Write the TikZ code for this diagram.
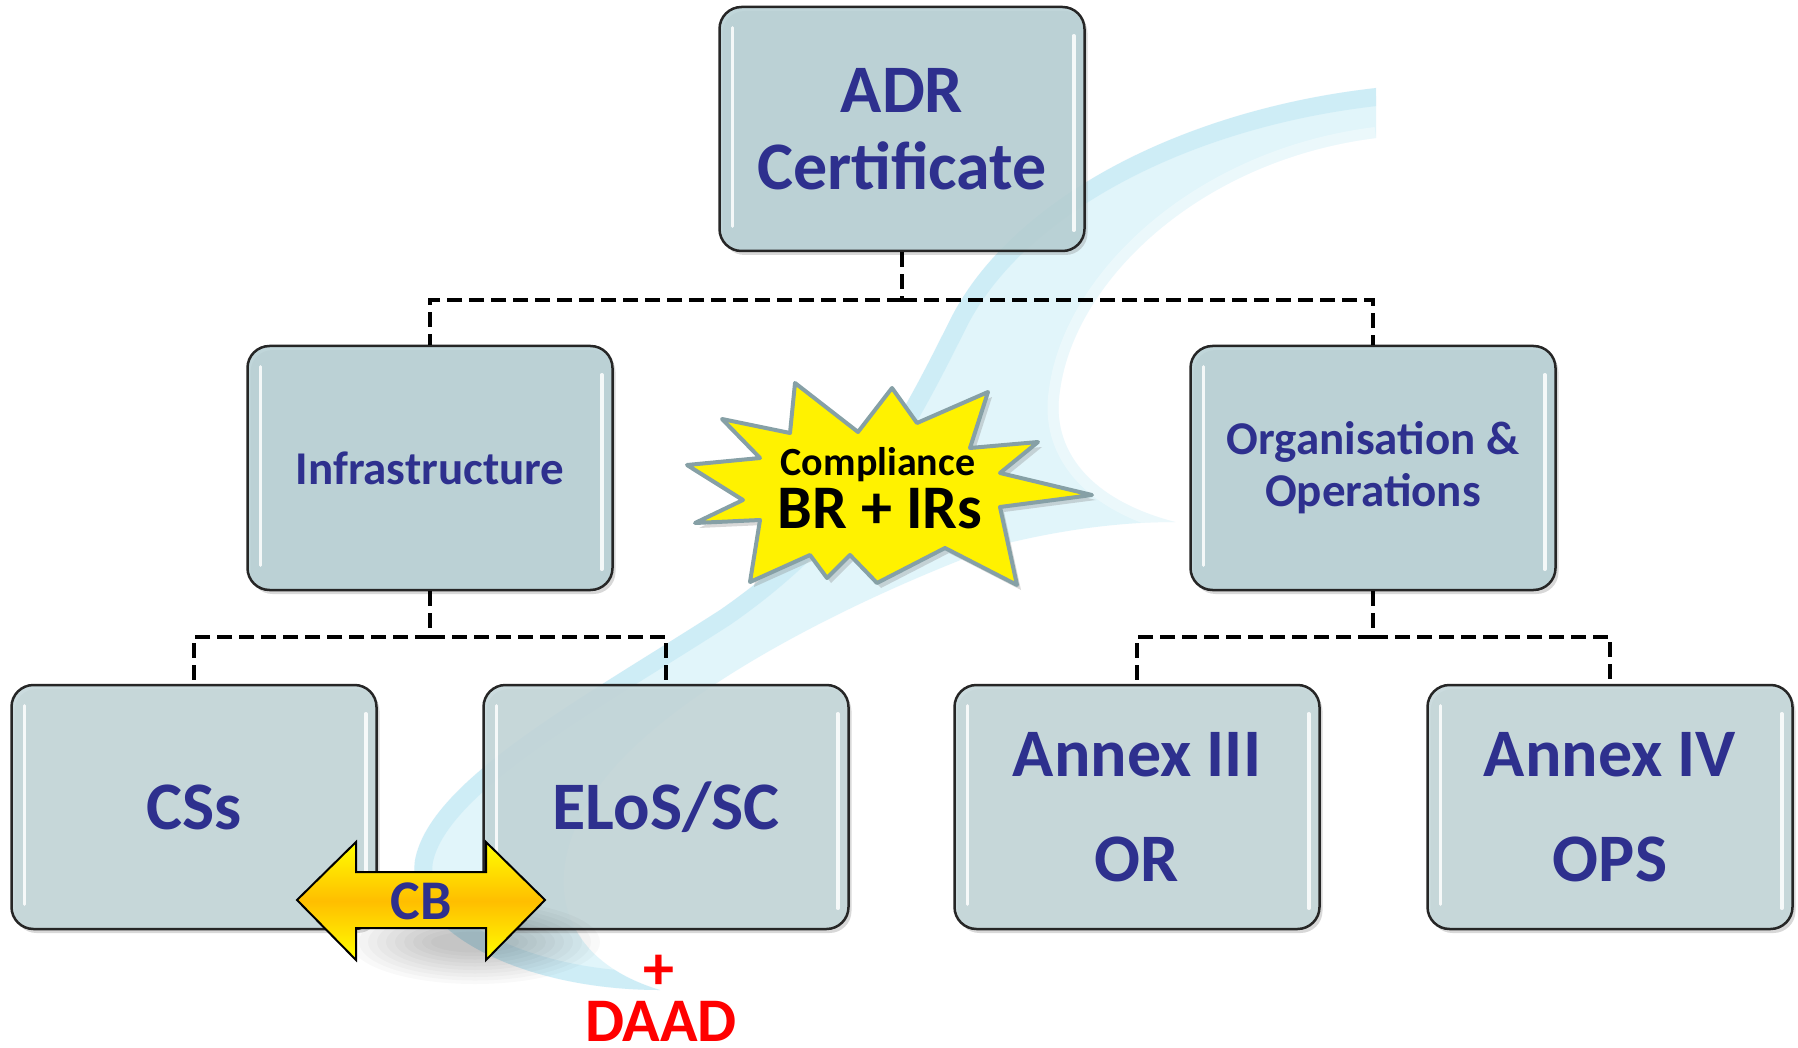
\documentclass[tikz,border=0pt]{standalone}
\usepackage{fontspec}
\newfontfamily\cf{Carlito}
\usetikzlibrary{shadows}
\definecolor{navy}{RGB}{46,48,142}
\definecolor{boxA}{RGB}{184,209,213}
\definecolor{boxB}{RGB}{196,215,218}
\definecolor{burstedge}{RGB}{134,160,166}
\definecolor{swooshC}{RGB}{190,233,246}
\definecolor{swooshD}{RGB}{140,210,236}
\definecolor{gold}{RGB}{255,190,0}
\definecolor{daadred}{RGB}{255,0,0}
\newcommand\myswoosh{(1376,88) .. controls (1180,110) and (1010,200) .. (950,320)
  .. controls (900,420) and (850,520) .. (720,610)
  .. controls (580,700) and (430,780) .. (415,860)
  .. controls (405,930) and (520,990) .. (660,990)
  .. controls (560,960) and (540,880) .. (590,800)
  .. controls (650,700) and (850,600) .. (1000,545)
  .. controls (1080,525) and (1140,522) .. (1175,522)
  .. controls (1090,500) and (1050,450) .. (1060,390)
  .. controls (1075,280) and (1200,160) .. (1376,138) -- cycle}
\begin{document}
\begin{tikzpicture}[x=1pt,y=-1pt,
  box/.style={draw=black!85, line width=2.5pt, rounded corners=22pt,
    minimum width=365pt, minimum height=244pt, inner sep=0pt, align=center,
    text=navy, text opacity=1, fill opacity=0.88,
    drop shadow={shadow xshift=3pt, shadow yshift=-4pt, opacity=0.3}},
  upper/.style={box, fill=boxA},
  lower/.style={box, fill=boxB},
  fbig/.style={font=\cf\bfseries\fontsize{68}{77}\selectfont},
  fannex/.style={font=\cf\bfseries\fontsize{68}{105}\selectfont},
  fmid/.style={font=\cf\bfseries\fontsize{47}{52}\selectfont},
  conn/.style={line width=4.2pt, dash pattern=on 15pt off 7pt},
  hl/.style={white, line width=3.5pt, line cap=round, opacity=0.85},
  burst/.style={fill=yellow, draw=burstedge, line width=4pt, line join=round,
    drop shadow={shadow xshift=4pt, shadow yshift=-5pt, opacity=0.3}},
  cbarrow/.style={draw=black, line width=2pt, line join=miter,
    top color=yellow, bottom color=yellow, middle color=gold},
  redtext/.style={text=daadred, font=\cf\bfseries\fontsize{62}{62}\selectfont, inner sep=0pt},
]
\useasboundingbox[fill=white] (0,0) rectangle (1798,1048);

% background swoosh
\fill[swooshC, fill opacity=0.45] \myswoosh;
\begin{scope}
  \clip \myswoosh;
  \draw[swooshD, line width=36pt, opacity=0.22]
    (1376,88) .. controls (1180,110) and (1010,200) .. (950,320)
    .. controls (900,420) and (850,520) .. (720,610)
    .. controls (580,700) and (430,780) .. (415,860)
    .. controls (405,930) and (520,990) .. (660,990);
  \draw[white, line width=22pt, opacity=0.35]
    (1376,138) .. controls (1200,160) and (1075,280) .. (1060,390)
    .. controls (1050,450) and (1090,500) .. (1175,522);
\end{scope}

% boxes
\node[upper,fbig] (adr) at (902,129) {ADR\\Certificate};
\node[upper,fmid] (infra) at (430,468) {Infrastructure};
\node[upper,fmid] (org) at (1373,468) {Organisation \&\\Operations};
\node[lower,fbig] (css) at (194,807) {CSs};
\node[lower,fbig] (elos) at (666,807) {ELoS/SC};
\node[lower,fannex] (a3) at (1137,807) {Annex III\\OR};
\node[lower,fannex] (a4) at (1610,807) {Annex IV\\OPS};

\foreach \n in {adr,infra,org,css,elos,a3,a4} {
  \draw[hl] ([xshift=14pt,yshift=-22pt]\n.north west) -- ([xshift=14pt,yshift=26pt]\n.south west);
  \draw[hl] ([xshift=-12pt,yshift=-30pt]\n.north east) -- ([xshift=-12pt,yshift=22pt]\n.south east);
}

% connectors
\coordinate (j1) at ([yshift=-48pt]adr.south);
\coordinate (j2) at ([yshift=-46pt]infra.south);
\coordinate (j3) at ([yshift=-46pt]org.south);
\draw[conn] (adr.south) -- (j1);
\draw[conn] (j1) -| (infra.north);
\draw[conn] (j1) -| (org.north);
\draw[conn] (infra.south) -- (j2);
\draw[conn] (j2) -| (css.north);
\draw[conn] (j2) -| (elos.north);
\draw[conn] (org.south) -- (j3);
\draw[conn] (j3) -| (a3.north);
\draw[conn] (j3) -| (a4.north);

% starburst
\draw[burst] (687,465) -- (760,458) -- (722,419) -- (790,433) -- (795,383)
  -- (858,432) -- (892,388) -- (917,423) -- (988,392) -- (970,448)
  -- (1038,442) -- (1000,473) -- (1092,495) -- (1000,507) -- (1017,585)
  -- (945,548) -- (877,583) -- (850,555) -- (827,578) -- (810,555)
  -- (750,582) -- (760,520) -- (695,523) -- (743,500) -- cycle;
\node[font=\cf\bfseries\fontsize{40}{40}\selectfont, anchor=base, inner sep=0pt] (comp) at (878,475) {Compliance};
\node[font=\cf\bfseries\fontsize{62}{62}\selectfont, anchor=base, inner sep=0pt] (brirs) at (880,528) {BR + IRs};

% CB arrow with soft shadow
\foreach \i in {0,...,9} {
  \fill[black, opacity=0.022] (475,942) ellipse [x radius={125pt-9pt*\i}, y radius={42pt-3.5pt*\i}];
}
\draw[cbarrow] (297,900) -- (356,842) -- (356,872) -- (486,872) -- (486,842)
  -- (545,900) -- (486,960) -- (486,928) -- (356,928) -- (356,960) -- cycle;
\node[text=navy, font=\cf\bfseries\fontsize{56}{56}\selectfont, inner sep=0pt] (cb) at (421,901) {CB};

% red text
\node[redtext, anchor=base] (plus) at (659,989) {+};
\node[redtext, anchor=base] (daad) at (661,1041) {DAAD};
\end{tikzpicture}
\end{document}
